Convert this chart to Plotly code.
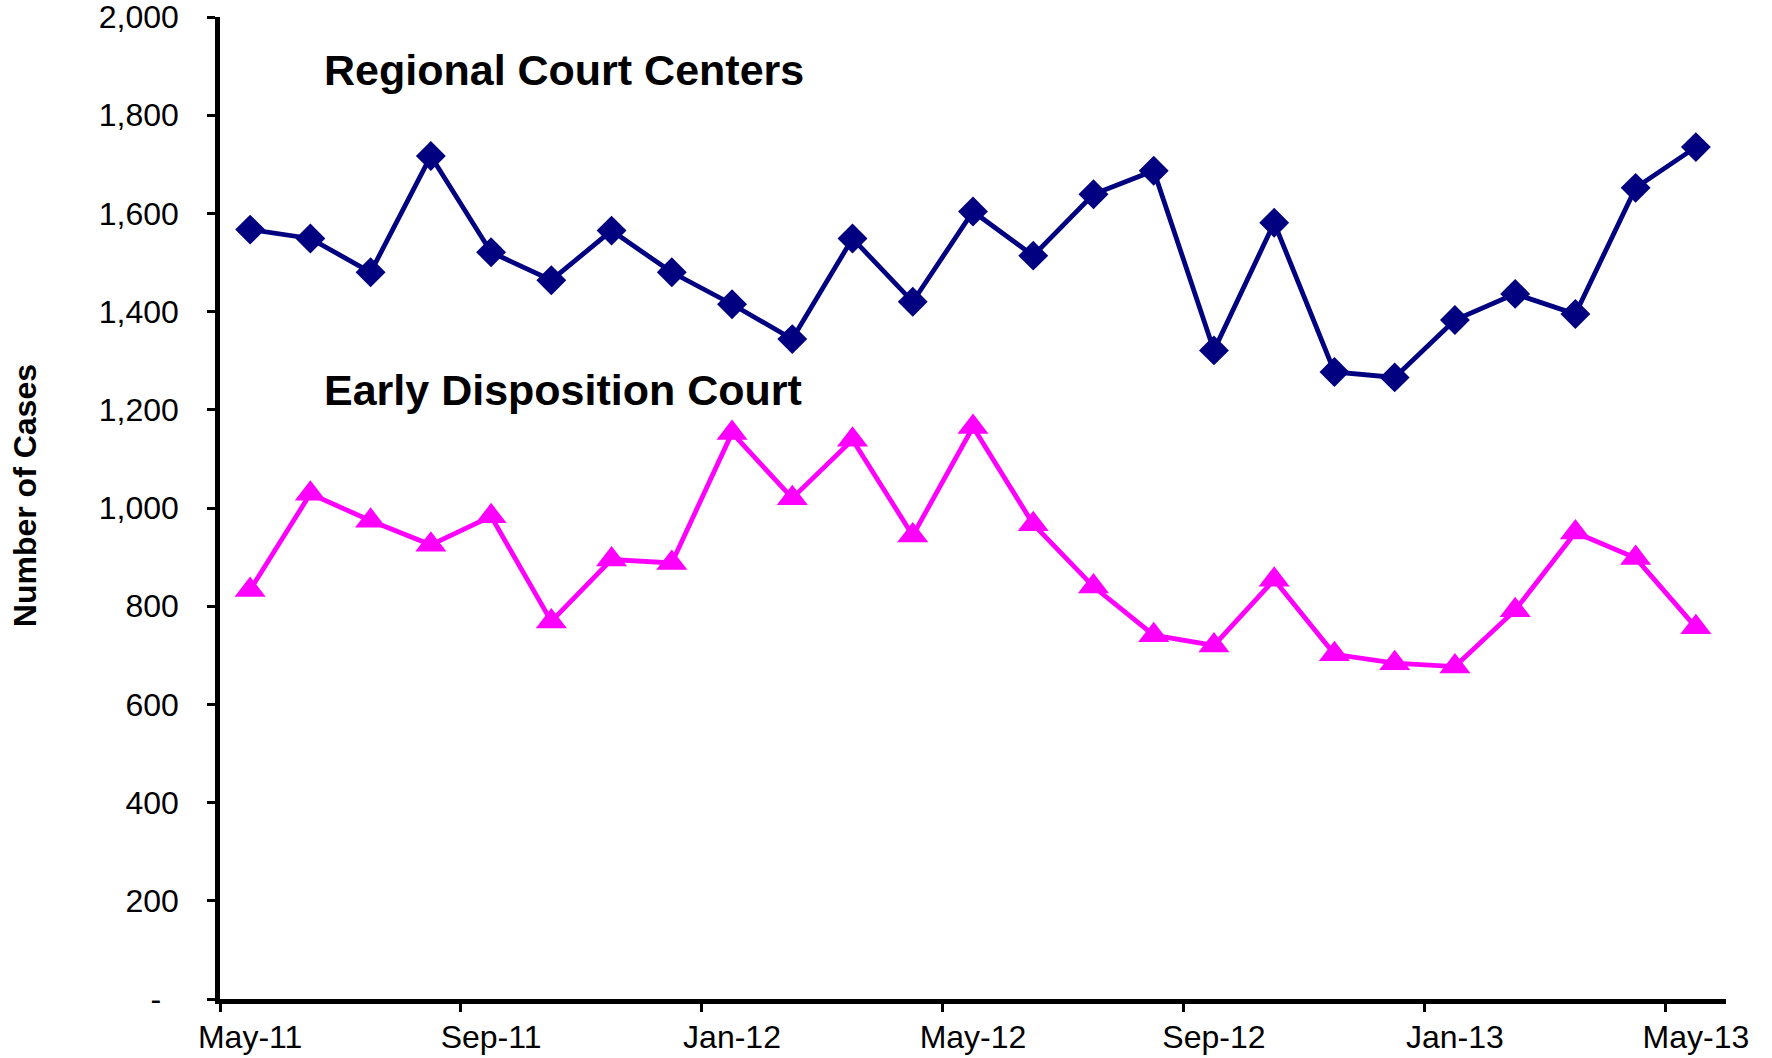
import plotly.graph_objects as go

months = ["May-11", "Jun-11", "Jul-11", "Aug-11", "Sep-11", "Oct-11", "Nov-11", "Dec-11",
          "Jan-12", "Feb-12", "Mar-12", "Apr-12", "May-12", "Jun-12", "Jul-12", "Aug-12",
          "Sep-12", "Oct-12", "Nov-12", "Dec-12", "Jan-13", "Feb-13", "Mar-13", "Apr-13", "May-13"]

regional = [1567, 1549, 1480, 1717, 1521, 1464, 1565, 1480, 1415, 1344, 1549, 1420, 1604,
            1514, 1639, 1687, 1321, 1581, 1277, 1266, 1383, 1436, 1395, 1652, 1735]

early = [833, 1029, 974, 925, 983, 769, 895, 888, 1153, 1020, 1139, 944, 1165,
         967, 840, 741, 720, 854, 702, 684, 677, 792, 950, 898, 757]

tick_labels = ["May-11", "Sep-11", "Jan-12", "May-12", "Sep-12", "Jan-13", "May-13"]
y_ticks = [0, 200, 400, 600, 800, 1000, 1200, 1400, 1600, 1800, 2000]
y_tick_text = ["-\u00a0\u00a0", "200", "400", "600", "800", "1,000", "1,200", "1,400", "1,600", "1,800", "2,000"]

idx = list(range(len(months)))
tick_pos = [months.index(m) for m in tick_labels]
boundaries = [p - 0.5 for p in tick_pos]

FONT = "Liberation Sans, Arial, sans-serif"

fig = go.Figure()
fig.add_trace(go.Scatter(
    x=idx, y=regional, mode="lines+markers", name="Regional Court Centers",
    line=dict(color="#000080", width=4.8),
    marker=dict(symbol="diamond", size=23, color="#000080"),
))
fig.add_trace(go.Scatter(
    x=idx, y=early, mode="lines+markers", name="Early Disposition Court",
    line=dict(color="#FF00FF", width=4.8),
    marker=dict(symbol="triangle-up", size=27, color="#FF00FF"),
))

fig.update_layout(
    width=1772, height=1058,
    margin=dict(l=220, r=46, t=17, b=59),
    paper_bgcolor="white", plot_bgcolor="white",
    showlegend=False,
    font=dict(family=FONT, size=32, color="black"),
    xaxis=dict(
        range=[-0.5, len(months) - 0.5],
        tickvals=tick_pos, ticktext=tick_labels,
        ticks="", showgrid=False, zeroline=False, automargin=False,
        showline=True, linecolor="black", linewidth=4.5,
        ticklabelstandoff=6, ticklabeloverflow="allow",
        tickfont=dict(size=32, family=FONT, color="black"),
        minor=dict(tickvals=boundaries, ticks="outside", ticklen=8,
                   tickwidth=3, tickcolor="black", showgrid=False),
    ),
    yaxis=dict(
        range=[0, 2000],
        tickvals=y_ticks, ticktext=y_tick_text,
        ticks="outside", ticklen=8, tickwidth=3, tickcolor="black",
        showgrid=False, zeroline=False, automargin=False,
        showline=True, linecolor="black", linewidth=4.5,
        ticklabelstandoff=22, ticklabeloverflow="allow",
        tickfont=dict(size=32, family=FONT, color="black"),
    ),
    annotations=[
        dict(text="<b>Number of Cases</b>", x=0, y=0.512, xref="paper", yref="paper",
             xshift=-195, textangle=-90, xanchor="center", yanchor="middle",
             showarrow=False, font=dict(size=32, family=FONT, color="black")),
        dict(text="<b>Regional Court Centers</b>", x=1.2, y=1892, xref="x", yref="y",
             xanchor="left", yanchor="middle", showarrow=False,
             font=dict(size=43, family=FONT, color="black")),
        dict(text="<b>Early Disposition Court</b>", x=1.2, y=1240, xref="x", yref="y",
             xanchor="left", yanchor="middle", showarrow=False,
             font=dict(size=43, family=FONT, color="black")),
    ],
)

fig.write_html(
    "out.html",
    config={"displayModeBar": False},
    post_script="document.body.style.margin='0';document.body.style.overflow='hidden';",
)
